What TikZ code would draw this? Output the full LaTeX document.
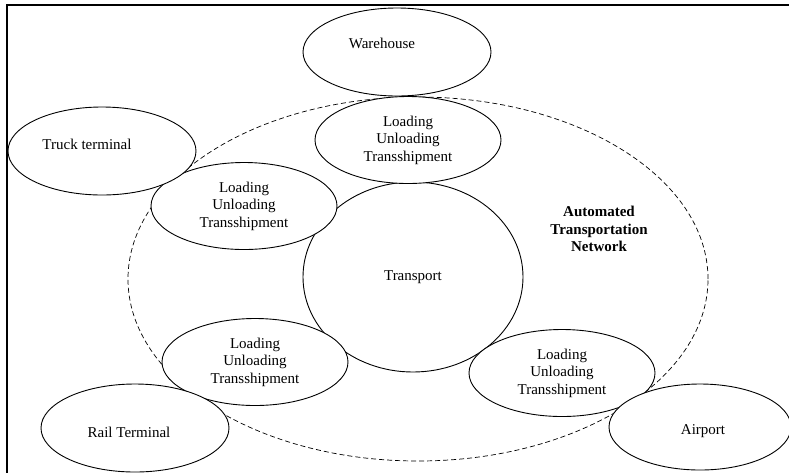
\documentclass[tikz,border=0pt]{standalone}
\usepackage{fontspec}
\setmainfont{Liberation Serif}
\usetikzlibrary{shapes.geometric}

\tikzset{
  blob/.style={draw, ellipse, fill=white, inner sep=0pt, line width=0.9pt,
    align=center, font=\fontsize{15}{17.5}\selectfont},
  site/.style={blob, minimum width=188pt, minimum height=88pt},
  lut/.style={blob, minimum width=186pt, minimum height=87pt},
}

\begin{document}
\begin{tikzpicture}[x=1pt, y=-1pt]
            \clip (0,0) rectangle (789,472);
            % frame
            \draw[line width=1.2pt] (7,476) -- (7,5) -- (795,5);

            % network boundary
            \node[draw, ellipse, dash pattern=on 5pt off 3pt, line width=0.7pt,
              minimum width=580pt, minimum height=364pt] at (418,279) (net) {};
            \node[font=\fontsize{15}{17.5}\selectfont\bfseries, align=center]
              at (599,229) (netlabel) {Automated\\Transportation\\Network};

            % transport in the middle
            \node[blob, minimum width=220pt, minimum height=190pt] at (413,277) (transport) {Transport};

            % handling points
            \node[lut] at (408,140) (lutA) {Loading\\Unloading\\Transshipment};
            \node[lut] at (244,206) (lutB) {Loading\\Unloading\\Transshipment};
            \node[lut] at (255,362) (lutC) {Loading\\Unloading\\Transshipment};
            \node[lut] at (562,373) (lutD) {Loading\\Unloading\\Transshipment};

            % terminals
            \node[site, label={[font=\fontsize{15}{17.5}\selectfont, xshift=-15pt, yshift=9pt]center:Warehouse}] at (397,52) (warehouse) {};
            \node[site, label={[font=\fontsize{15}{17.5}\selectfont, xshift=-15pt, yshift=7pt]center:Truck terminal}] at (102,151) (truck) {};
            \node[site, label={[font=\fontsize{15}{17.5}\selectfont, xshift=-6pt, yshift=-4pt]center:Rail Terminal}] at (135,428) (rail) {};
            \node[site, minimum width=182pt, minimum height=86pt, label={[font=\fontsize{15}{17.5}\selectfont, xshift=3pt, yshift=-4pt]center:Airport}] at (700,427) (airport) {};
        \end{tikzpicture}
\end{document}
